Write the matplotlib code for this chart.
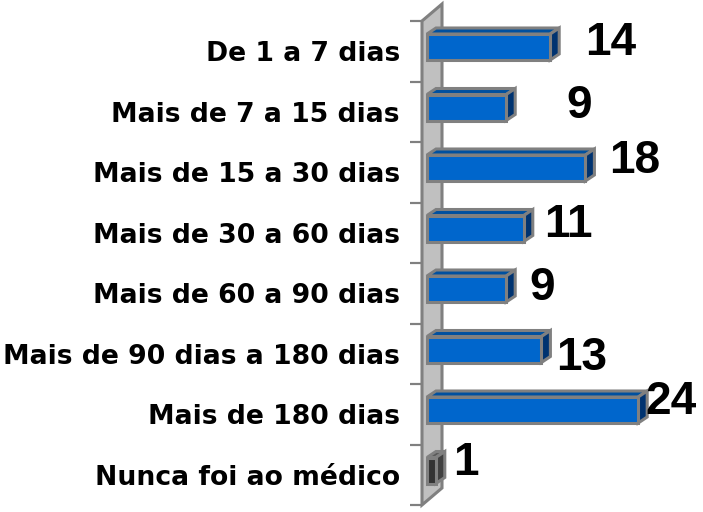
import numpy as np
import matplotlib.pyplot as plt
from matplotlib.patches import Polygon

# dados
categorias = ['De 1 a 7 dias', 'Mais de 7 a 15 dias', 'Mais de 15 a 30 dias',
              'Mais de 30 a 60 dias', 'Mais de 60 a 90 dias',
              'Mais de 90 dias a 180 dias', 'Mais de 180 dias', 'Nunca foi ao médico']
valores = [14, 9, 18, 11, 9, 13, 24, 1]

# deslocamento dos rótulos de valor (pixels: direita, cima)
rot_dx = [60, 73, 49, 45, 36, 40, 33, 30]
rot_dy = [-4, -6, -1, -4, -7, -16, 0, 0]

W, H = 703, 512
PX = 8.8          # pixels por unidade
SLOT = 60.5       # pixels por categoria
X0 = 427          # pixel do zero
AX_L = 422

fig = plt.figure(figsize=(W / 100, H / 100), dpi=100)
ax = fig.add_axes([AX_L / W, 0, (W - AX_L) / W, 1])
ax.set_xlim((AX_L - X0) / PX, (W - X0) / PX)
ax.set_ylim(7.5 + 7 / SLOT, -0.5 - 21 / SLOT)
for s in ax.spines.values():
    s.set_visible(False)
ax.set_xticks([])

# parede 3D cinza
wx0, wx1 = (AX_L - X0) / PX, (442 - X0) / PX
wdy = 17 / SLOT
wall = Polygon([(wx0, -0.5), (wx1, -0.5 - wdy), (wx1, 7.5 - wdy), (wx0, 7.5)],
               closed=True, facecolor='#C0C0C0', edgecolor='#808080', lw=2.2, clip_on=False, zorder=1)
ax.add_patch(wall)

# eixo: rótulos e marcas
n = len(categorias)
ax.set_yticks(np.arange(n))
ax.set_yticklabels(categorias, fontfamily='DejaVu Sans', fontweight='bold', fontsize=19.2)
ax.set_yticks(np.arange(n + 1) - 0.5, minor=True)
ax.tick_params(axis='y', which='major', length=0, pad=22 * 0.72)
ax.tick_params(axis='y', which='minor', length=12 * 0.72, width=2.2 * 0.72, color='#808080')

# barras 3D
y = np.arange(n)
top = y - 0.5 + 13 / SLOT
bot = y - 0.5 + 39 / SLOT
ddx = 9 / PX
ddy = 6 / SLOT
cor_frente = ['#0066CC'] * (n - 1) + ['#333333']
cor_topo = ['#00509F'] * (n - 1) + ['#5A5A5A']
cor_lado = ['#003370'] * (n - 1) + ['#404040']

ax.barh(y - 0.5 + 26 / SLOT, valores, height=26 / SLOT, color=cor_frente,
        edgecolor='#808080', linewidth=2.2, zorder=3)
for i, v in enumerate(valores):
    ax.add_patch(Polygon([(0, top[i]), (v, top[i]), (v + ddx, top[i] - ddy), (ddx, top[i] - ddy)],
                         closed=True, facecolor=cor_topo[i], edgecolor='#808080', lw=2.2, zorder=2))
    ax.add_patch(Polygon([(v, top[i]), (v + ddx, top[i] - ddy), (v + ddx, bot[i] - ddy), (v, bot[i])],
                         closed=True, facecolor=cor_lado[i], edgecolor='#808080', lw=2.2, zorder=2))
    ax.annotate(str(v), xy=(v, y[i]), xytext=(rot_dx[i], rot_dy[i]), textcoords='offset pixels',
                ha='center', va='baseline', fontfamily='Liberation Sans', fontweight='bold',
                fontsize=33, color='black')

plt.savefig('out.png', dpi=100)
